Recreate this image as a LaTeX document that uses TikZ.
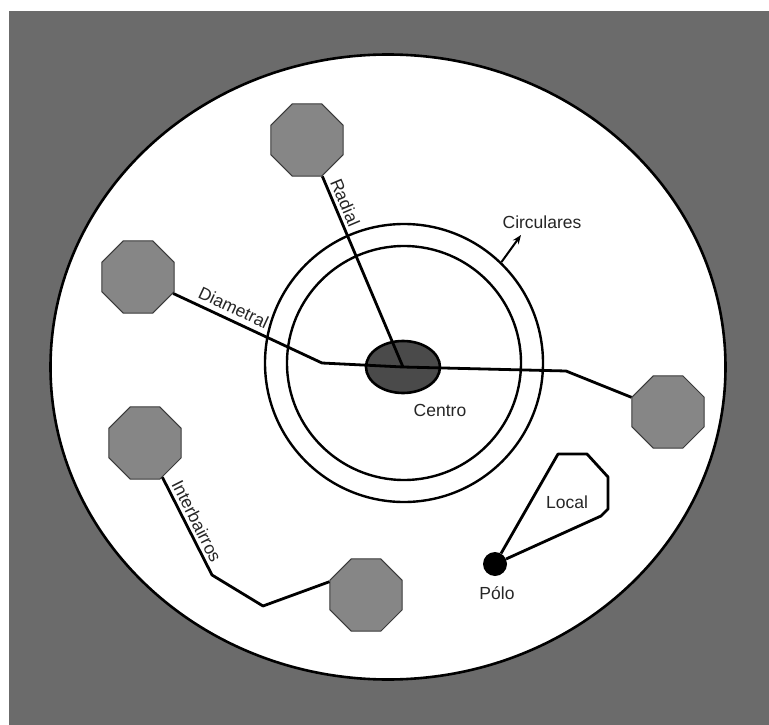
\documentclass[tikz,border=0pt]{standalone}
\usepackage{fontspec}
\setmainfont{Liberation Sans}
\usetikzlibrary{shapes.geometric,arrows.meta}
\definecolor{bggray}{HTML}{6B6B6B}
\definecolor{octfill}{HTML}{868686}
\definecolor{octline}{HTML}{3A3A3A}
\definecolor{ctrfill}{HTML}{4A4A4A}
\tikzset{
  octo/.style={regular polygon, regular polygon sides=8, minimum size=78pt, inner sep=0pt,
    fill=octfill, draw=octline, line width=1pt},
  conn/.style={draw=black, line width=2.8pt, line join=round},
  ring/.style={circle, draw=black, line width=2.4pt, inner sep=0pt},
  lab/.style={font=\fontsize{17.5}{21}\selectfont, text=black!85},
  arr/.style={draw=black, line width=2pt, -{Stealth[length=9pt,width=7pt]}}
}
\begin{document}
\begin{tikzpicture}[x=1pt,y=-1pt]
\useasboundingbox (0,0) rectangle (769,725);
\fill[white] (0,0) rectangle (769,725);
\fill[bggray] (9,11) rectangle (769,725);
% disc
\node[ellipse, draw=black, line width=2.6pt, fill=white, minimum width=675pt, minimum height=625pt, inner sep=0pt] (disc) at (388,367) {};
% rings
\node[ring, minimum size=278pt] (outer) at (404,363) {};
\node[ring, minimum size=234pt] (inner) at (404,363) {};
% centre
\node[ellipse, draw=black, line width=2.6pt, fill=ctrfill, minimum width=74pt, minimum height=52pt, inner sep=0pt] (ctr) at (403,367) {};
% octagons
\node[octo] (octR) at (307,140) {};
\node[octo] (octL) at (138,277) {};
\node[octo] (octE) at (668,412) {};
\node[octo] (octA) at (145,443) {};
\node[octo] (octB) at (366,595) {};
% pole
\node[circle, fill=black, minimum size=24pt, inner sep=0pt] (pole) at (495,564) {};
% bend points
\coordinate (d1) at (322,363);
\coordinate (d2) at (566,371);
\coordinate (i1) at (212,575);
\coordinate (i2) at (263,606);
\coordinate (l1) at (558,454);
\coordinate (l2) at (587,454);
\coordinate (l3) at (608,477);
\coordinate (l4) at (608,509);
\coordinate (l5) at (601,516);
\coordinate (ce) at (521,235);
% connectors
\draw[conn] (octR) -- node[lab, sloped, above, pos=0.16, inner sep=3pt] {Radial} (ctr.center);
\draw[conn] (octL) -- node[lab, sloped, above, pos=0.37, inner sep=5pt] {Diametral} (d1) -- (ctr.center) -- (d2) -- (octE);
\draw[conn] (octA) -- node[lab, sloped, above, pos=0.5, inner sep=3pt] {Interbairros} (i1) -- (i2) -- (octB.160);
\draw[conn] (pole) -- (l1) -- (l2) -- (l3) -- (l4) -- (l5) -- (pole);
\draw[arr] (outer.46) -- (ce);
% labels
\node[lab] (tcirc) at (542,222) {Circulares};
\node[lab] (tctr) at (440,410) {Centro};
\node[lab] (tlocal) at (567,502) {Local};
\node[lab] (tpolo) at (497,593) {Pólo};
\end{tikzpicture}
\end{document}
